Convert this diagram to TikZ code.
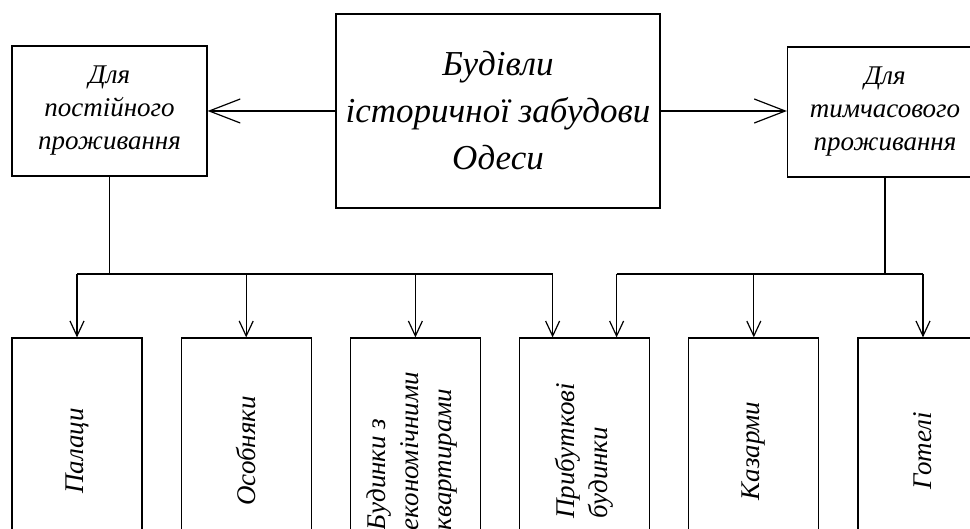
\documentclass[tikz,border=0pt]{standalone}
\usepackage{fontspec}
\setmainfont{Liberation Serif}
\usepackage{graphicx}
\usetikzlibrary{arrows.meta, positioning}

\begin{document}
\begin{tikzpicture}[x=1pt, y=-1pt,
    box/.style={draw, line width=1.2pt, align=center, inner sep=0pt, font=\itshape\fontsize{27}{33}\selectfont},
    topbox/.style={box, minimum width=195pt, minimum height=130pt},
    kind/.style={box, minimum width=130pt, minimum height=226pt},
    arr/.style={-{Straight Barb[length=15pt, width=14pt]}, line width=1.2pt},
    bigarr/.style={-{Straight Barb[length=31pt, width=24pt]}, line width=1.2pt},
    link/.style={line width=1.2pt}
  ]
  \useasboundingbox (0,0) rectangle (970,529);
  \clip (0,0) rectangle (970,529);
  % top row
  \node[box, minimum width=324pt, minimum height=194pt, font=\itshape\fontsize{35}{47}\selectfont] (main) at (498,111) {Будівли\\історичної забудови\\Одеси};
  \node[topbox] (perm) at (109.5,111) {Для\\постійного\\проживання};
  \node[topbox] (temp) at (885,112) {Для\\тимчасового\\проживання};
  \draw[bigarr] (main.west) -- (main.west -| perm.east);
  \draw[bigarr] (main.east) -- (main.east -| temp.west);
  % bottom row
  \node[kind] (palaces) at (77,451) {\rotatebox{90}{Палаци}};
  \node[kind, right=38pt of palaces] (mansions) {\rotatebox{90}{Особняки}};
  \node[kind, right=38pt of mansions] (econ) {\rotatebox{90}{\begin{tabular}{@{}l@{}}Будинки з\\економічними\\квартирами\end{tabular}}\hspace{8pt}};
  \node[kind, right=38pt of econ] (rental) {\rotatebox{90}{\begin{tabular}{@{}l@{}}Прибуткові\\будинки\end{tabular}}};
  \node[kind, right=38pt of rental] (barracks) {\rotatebox{90}{Казарми}};
  \node[kind, right=38pt of barracks] (hotels) {\rotatebox{90}{Готелі}};
  % buses
  \coordinate (bus) at (0,274);
  \coordinate (lend) at ([xshift=-32pt]rental.north);
  \coordinate (rend) at ([xshift=32pt]rental.north);
  \draw[link] (perm) -- (perm |- bus);
  \draw[link] (palaces |- bus) -- (lend |- bus);
  \draw[link] (temp) -- (temp |- bus);
  \draw[link] (rend |- bus) -- (hotels |- bus);
  \foreach \n in {palaces, mansions, econ, barracks, hotels}
    \draw[arr] (\n.north |- bus) -- (\n.north);
  \draw[arr] (lend |- bus) -- (lend);
  \draw[arr] (rend |- bus) -- (rend);
\end{tikzpicture}
\end{document}
